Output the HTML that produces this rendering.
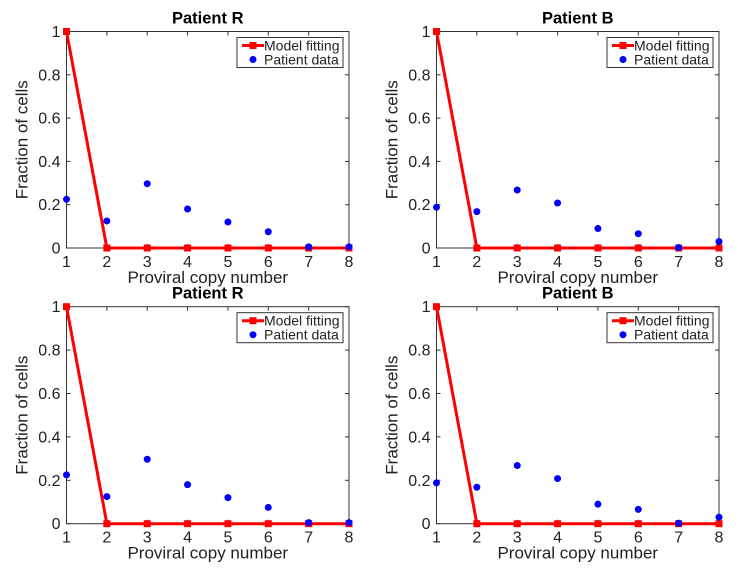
<!DOCTYPE html>
<html><head><meta charset="utf-8"><style>
body{margin:0;background:#fff;width:738px;height:572px;overflow:hidden}
svg{font-family:"Liberation Sans",sans-serif}
</style></head><body>
<svg id="c" width="738" height="572"></svg>
<script>
const xCats=[1,2,3,4,5,6,7,8];
const yTicks=[0,0.2,0.4,0.6,0.8,1];
const yTickLabels=["0","0.2","0.4","0.6","0.8","1"];
const modelR=[1,0,0,0,0,0,0,0];
const dataR=[0.225,0.125,0.297,0.18,0.12,0.075,0.005,0.005];
const modelB=[1,0,0,0,0,0,0,0];
const dataB=[0.188,0.168,0.268,0.208,0.09,0.066,0.002,0.03];
const panels=[
 {t:"Patient R",m:modelR,d:dataR,x0:66.5,x1:349,y0:31.5,y1:248,n:"top-left"},
 {t:"Patient B",m:modelB,d:dataB,x0:436.5,x1:719,y0:31.5,y1:248,n:"top-right"},
 {t:"Patient R",m:modelR,d:dataR,x0:66.5,x1:349,y0:306.7,y1:523.7,n:"bottom-left"},
 {t:"Patient B",m:modelB,d:dataB,x0:436.5,x1:719,y0:306.7,y1:523.7,n:"bottom-right"}];
const svg=document.getElementById('c');
const NS="http://www.w3.org/2000/svg";
function el(tag,attrs,parent,text){const e=document.createElementNS(NS,tag);for(const k in attrs)e.setAttribute(k,attrs[k]);if(text!==undefined)e.textContent=text;(parent||svg).appendChild(e);return e;}
panels.forEach(p=>{
 const g=el('g',{});
 
 
 const X=v=>p.x0+(v-1)/7*(p.x1-p.x0);
 const Y=v=>p.y1-v*(p.y1-p.y0);
 const box=el('rect',{x:p.x0,y:p.y0,width:p.x1-p.x0,height:p.y1-p.y0,fill:'none',stroke:'#333','stroke-width':1},g);
 
 
 const tt=el('text',{x:(p.x0+p.x1)/2,y:p.y0-8,'text-anchor':'middle','font-size':16.5,'font-weight':'bold'},g,p.t);
 
 
 xCats.forEach(c=>{
  el('line',{x1:X(c),x2:X(c),y1:p.y1,y2:p.y1-4,stroke:'#333'},g);
  el('line',{x1:X(c),x2:X(c),y1:p.y0,y2:p.y0+4,stroke:'#333'},g);
  const t=el('text',{x:X(c),y:p.y1+19,'text-anchor':'middle','font-size':16,fill:'#222'},g,String(c));
  
  
 });
 yTicks.forEach((v,i)=>{
  el('line',{x1:p.x0,x2:p.x0+4,y1:Y(v),y2:Y(v),stroke:'#333'},g);
  el('line',{x1:p.x1,x2:p.x1-4,y1:Y(v),y2:Y(v),stroke:'#333'},g);
  const t=el('text',{x:p.x0-6,y:Y(v)+5.5,'text-anchor':'end','font-size':16,fill:'#222'},g,yTickLabels[i]);
  
  
 });
 const xl=el('text',{x:(p.x0+p.x1)/2,y:p.y1+35,'text-anchor':'middle','font-size':17,fill:'#222'},g,'Proviral copy number');
 
 
 const yl=el('text',{x:0,y:0,'text-anchor':'middle','font-size':17,fill:'#222',transform:`translate(${p.x0-39},${(p.y0+p.y1)/2}) rotate(-90)`},g,'Fraction of cells');
 
 
 const pl=el('polyline',{points:p.m.map((v,i)=>X(xCats[i])+','+Y(v)).join(' '),fill:'none',stroke:'#f00','stroke-width':3},g);
 
 
 p.m.forEach((v,i)=>{
  const r=el('rect',{x:X(xCats[i])-3.5,y:Y(v)-3.5,width:7,height:7,fill:'#f00'},g);
  
  
 });
 p.d.forEach((v,i)=>{
  const c=el('circle',{cx:X(xCats[i]),cy:Y(v),r:3.5,fill:'#00f'},g);
  
  
 });
 const lx=p.x1-112,ly=p.y0+6;
 const lg=el('g',{},g);
 
 
 el('rect',{x:lx,y:ly,width:106,height:30,fill:'#fff',stroke:'#333'},lg);
 el('line',{x1:lx+5,x2:lx+27,y1:ly+8,y2:ly+8,stroke:'#f00','stroke-width':3},lg);
 el('rect',{x:lx+12.5,y:ly+4.5,width:7,height:7,fill:'#f00'},lg);
 el('text',{x:lx+27,y:ly+13,'font-size':14,fill:'#222'},lg,'Model fitting');
 el('circle',{cx:lx+16,cy:ly+22,r:3.5,fill:'#00f'},lg);
 el('text',{x:lx+27,y:ly+27,'font-size':14,fill:'#222'},lg,'Patient data');
});
</script>
</body></html>
